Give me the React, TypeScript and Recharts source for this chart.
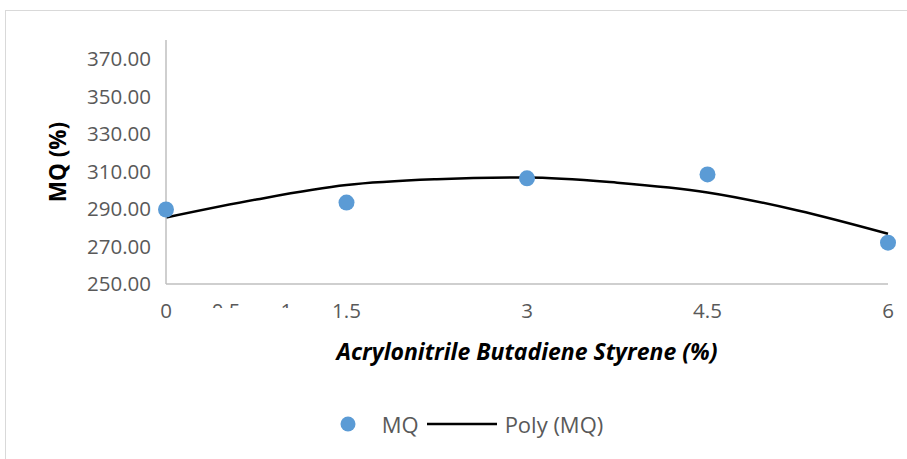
import { ComposedChart, Scatter, Line, XAxis, YAxis, Legend } from 'recharts';

// ABS content (%) vs Marshall quotient
const absContent = [0, 1.5, 3, 4.5, 6];
const mqValues = [289.7, 293.4, 306.3, 308.4, 272.0];

// polynomial trendline
const polyX = [0, 0.75, 1.5, 2.25, 3, 3.75, 4.5, 5.25, 6];
const polyY = [285.4, 295.0, 302.7, 305.8, 306.8, 304.0, 298.8, 289.2, 276.8];

const xTicks = [0, 0.5, 1, 1.5, 3, 4.5, 6];
const hiddenTicks = [0.5, 1];
const yTicks = [250, 270, 290, 310, 330, 350, 370];

const scatterData = absContent.map((x, i) => ({ x, mq: mqValues[i] }));
const polyData = polyX.map((x, i) => ({ x, poly: polyY[i] }));

const FONT = '"Open Sans", "Liberation Sans", sans-serif';
const TICK_COLOR = '#595959';
const AXIS_COLOR = '#bfbfbf';
const BLUE = '#5b9bd5';

function XTick(props: any) {
  const { x, y, payload } = props;
  const partial = hiddenTicks.includes(payload.value);
  const id = `clip-${String(payload.value).replace('.', '-')}`;
  return (
    <g>
      {partial && (
        <defs>
          <clipPath id={id}>
            <rect x={x - 30} y={y + 12} width={60} height={4} />
          </clipPath>
        </defs>
      )}
      <text
        x={x}
        y={y}
        dy={26}
        textAnchor="middle"
        fill={TICK_COLOR}
        fontSize={20.5}
        fontFamily={FONT}
        clipPath={partial ? `url(#${id})` : undefined}
      >
        {payload.value}
      </text>
    </g>
  );
}

function LegendContent() {
  return (
    <div
      style={{
        display: 'flex',
        justifyContent: 'center',
        alignItems: 'center',
        fontFamily: FONT,
        fontSize: 22,
        color: TICK_COLOR,
        paddingLeft: 36,
      }}
    >
      <svg width={16} height={16} style={{ marginRight: 26 }}>
        <circle cx={8} cy={8} r={7.5} fill={BLUE} />
      </svg>
      <span>MQ</span>
      <svg width={70} height={10} style={{ margin: '0 8px' }}>
        <line x1={0} y1={5} x2={70} y2={5} stroke="#000" strokeWidth={2.5} />
      </svg>
      <span>Poly (MQ)</span>
    </div>
  );
}

export default function App() {
  return (
    <div
      style={{
        position: 'absolute',
        left: 0,
        top: 0,
        width: 907,
        height: 459,
        background: '#fff',
      }}
    >
      <div
        style={{
          position: 'absolute',
          left: 5,
          top: 10,
          right: 0,
          bottom: 0,
          borderTop: '1px solid #d9d9d9',
          borderLeft: '1px solid #d9d9d9',
        }}
      />
      <ComposedChart
        width={907}
        height={459}
        margin={{ top: 40, right: 19, bottom: 0, left: 0 }}
        style={{ position: 'absolute', left: 0, top: 0 }}
      >
        <XAxis
          type="number"
          dataKey="x"
          domain={[0, 6]}
          ticks={xTicks}
          tick={<XTick />}
          tickLine={false}
          axisLine={{ stroke: AXIS_COLOR, strokeWidth: 1.5 }}
          height={175}
          allowDuplicatedCategory={false}
          label={{
            value: 'Acrylonitrile Butadiene Styrene (%)',
            position: 'insideTop',
            offset: 60,
            fill: '#000',
            fontSize: 23,
            fontWeight: 700,
            fontStyle: 'italic',
            fontFamily: FONT,
          }}
        />
        <YAxis
          type="number"
          domain={[250, 380]}
          ticks={yTicks}
          tickFormatter={(v: number) => v.toFixed(2)}
          tick={{ fill: TICK_COLOR, fontSize: 20.5, fontFamily: FONT }}
          tickLine={false}
          tickMargin={9}
          axisLine={{ stroke: AXIS_COLOR, strokeWidth: 1.5 }}
          width={166}
          label={{
            value: 'MQ (%)',
            angle: -90,
            position: 'insideLeft',
            offset: 58,
            fill: '#000',
            fontSize: 22.5,
            fontWeight: 700,
            fontFamily: FONT,
            style: { textAnchor: 'middle' },
          }}
        />
        <Legend
          layout="horizontal"
          verticalAlign="middle"
          align="center"
          content={<LegendContent />}
          wrapperStyle={{ top: 409, left: 0, width: 907 }}
        />
        <Line
          data={polyData}
          dataKey="poly"
          name="Poly (MQ)"
          type="monotone"
          stroke="#000"
          strokeWidth={2.5}
          dot={false}
          activeDot={false}
          isAnimationActive={false}
        />
        <Scatter
          data={scatterData}
          dataKey="mq"
          name="MQ"
          fill={BLUE}
          shape={(p: any) => <circle cx={p.cx} cy={p.cy} r={8} fill={BLUE} />}
          isAnimationActive={false}
        />
      </ComposedChart>
    </div>
  );
}
